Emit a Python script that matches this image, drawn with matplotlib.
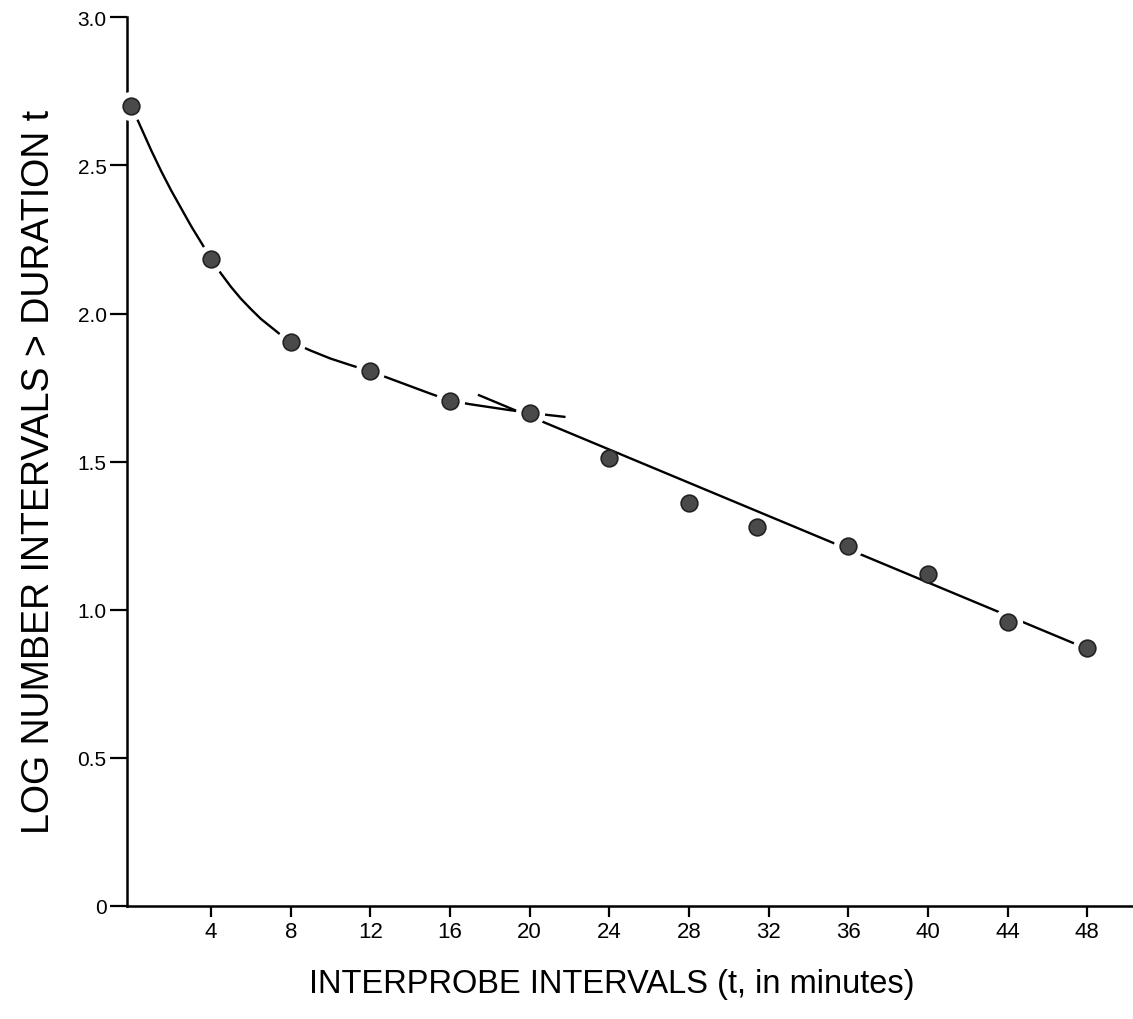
import matplotlib.pyplot as plt
import numpy as np

plt.rcParams['font.family'] = ['Liberation Sans', 'DejaVu Sans']

# observed points (interval in minutes, log10 count of intervals longer than t)
interval_min = [0, 4, 8, 12, 16, 20, 24, 28, 31.4, 36, 40, 44, 48]
log_count = [2.70, 2.185, 1.905, 1.805, 1.706, 1.665, 1.514, 1.36, 1.278, 1.214, 1.12, 0.96, 0.87]
# points sitting on a drawn fit line get a white gap around them
on_fit = [True, True, True, True, True, True, False, False, False, True, False, True, True]

# hand-drawn curve for the fast component
curve_t = [0, 0.5, 1, 1.5, 2, 2.5, 3, 3.5, 4, 4.5, 5, 5.5, 6, 6.5, 7, 7.5, 8,
           9, 10, 11, 12, 13, 14, 15, 16, 17, 18, 19, 20, 21, 21.8]
curve_y = [2.70, 2.625, 2.55, 2.48, 2.415, 2.355, 2.295, 2.24, 2.185, 2.135, 2.09,
           2.05, 2.015, 1.982, 1.955, 1.928, 1.905, 1.875, 1.848, 1.826, 1.805,
           1.78, 1.755, 1.73, 1.706, 1.694, 1.684, 1.674, 1.665, 1.657, 1.651]

# straight line for the slow component
line_t = [17.4, 48]
line_y = [1.726, 0.868]

x_ticks = [4, 8, 12, 16, 20, 24, 28, 32, 36, 40, 44, 48]
y_ticks = [0, 0.5, 1.0, 1.5, 2.0, 2.5, 3.0]
y_ticklabels = ["0", "0.5", "1.0", "1.5", "2.0", "2.5", "3.0"]

fig = plt.figure(figsize=(11.33, 10.2), dpi=100)
ax = fig.add_axes([0.1125, 0.1108, 0.8875, 0.8712])

ax.plot(curve_t, curve_y, color="black", lw=1.7, zorder=2, solid_capstyle="butt")
ax.plot(line_t, line_y, color="black", lw=1.7, zorder=2, solid_capstyle="butt")

gap_x = [x for x, g in zip(interval_min, on_fit) if g]
gap_y = [y for y, g in zip(log_count, on_fit) if g]
ax.plot(gap_x, gap_y, "o", color="white", markersize=20, zorder=3, clip_on=False)
ax.plot(interval_min, log_count, "o", color="#4a4a4a", markeredgecolor="#222222",
        markeredgewidth=1.2, markersize=12, zorder=4, clip_on=False)

ax.set_xlim(-0.2, 50.3)
ax.set_ylim(0, 3.0)

ax.spines["top"].set_visible(False)
ax.spines["right"].set_visible(False)
ax.spines["left"].set_linewidth(1.8)
ax.spines["bottom"].set_linewidth(1.8)

ax.set_xticks(x_ticks)
ax.set_xticklabels([str(v) for v in x_ticks])
ax.set_yticks(y_ticks)
ax.set_yticklabels(y_ticklabels)
ax.tick_params(axis="x", direction="out", length=8, width=1.6, labelsize=16, pad=3)
ax.tick_params(axis="y", direction="out", length=12, width=1.6, labelsize=15, pad=3)

ax.set_xlabel("INTERPROBE INTERVALS (t, in minutes)", fontsize=23.5)
ax.xaxis.set_label_coords(0.482, -0.07)
ax.set_ylabel("LOG NUMBER INTERVALS > DURATION t", fontsize=27)
ax.yaxis.set_label_coords(-0.07, 0.49)

fig.savefig("out.png", dpi=100)
